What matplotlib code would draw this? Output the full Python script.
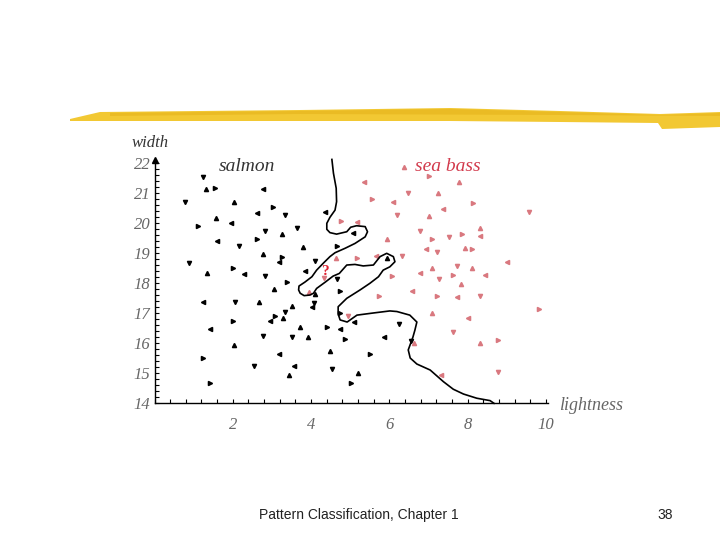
import numpy as np
import matplotlib
matplotlib.use("Agg")
import matplotlib.pyplot as plt
from matplotlib.patches import Polygon
from matplotlib.ticker import MultipleLocator

# salmon (black) samples: lightness, width
salmon_x = [1.23, 1.32, 1.55, 2.78, 0.78, 2.04, 3.03, 2.61, 3.33, 1.57, 1.10, 1.95,
            2.83, 3.26, 2.61, 1.59, 2.16, 2.78, 3.26, 3.18, 0.89, 1.35, 2.00, 2.29,
            2.83, 3.06, 3.38, 1.23, 2.06, 2.66, 3.08, 2.95, 3.33, 3.29, 2.01, 1.42,
            2.78, 2.04, 1.23, 3.19, 2.53, 3.43, 1.42, 3.84, 4.65, 4.10, 4.74, 4.02,
            4.08, 3.52, 4.74, 5.10, 6.25, 3.72, 4.40, 4.74, 3.52, 3.91, 4.87, 5.86,
            6.55, 4.48, 5.50, 3.55, 4.53, 5.19, 5.01, 4.36, 3.63, 3.79, 4.67, 5.06,
            4.10, 5.93]
salmon_y = [21.55, 21.13, 21.19, 21.13, 20.70, 20.70, 20.53, 20.33, 20.28, 20.17, 19.92, 20.00,
            19.74, 19.63, 19.49, 19.42, 19.24, 18.98, 18.89, 18.72, 18.67, 18.35, 18.50, 18.30,
            18.24, 17.80, 18.03, 17.39, 17.39, 17.39, 16.92, 16.75, 17.05, 16.85, 16.75, 16.48,
            16.25, 15.94, 15.52, 15.64, 15.25, 14.95, 14.67, 18.42, 18.13, 17.64, 17.75, 17.22,
            17.35, 17.25, 17.02, 16.70, 16.64, 16.55, 16.53, 16.48, 16.22, 16.21, 16.14, 16.22,
            16.07, 15.75, 15.64, 15.25, 15.14, 15.00, 14.67, 20.39, 19.85, 19.20, 19.25, 19.67,
            18.74, 18.85]

# sea bass (red) samples
bass_x = [6.38, 7.01, 5.36, 6.47, 7.25, 5.55, 6.08, 6.20, 7.00, 4.75, 5.16, 6.78,
          5.93, 7.08, 6.93, 7.21, 4.63, 5.16, 5.65, 6.33, 7.08, 6.06, 6.78, 4.34,
          7.78, 8.13, 7.36, 9.56, 8.30, 7.85, 8.30, 7.53, 7.93, 8.10, 9.00, 7.73,
          8.10, 7.62, 8.44, 7.27, 7.82, 7.22, 7.73, 8.30, 7.08, 9.83, 8.00, 7.62,
          8.30, 8.78, 7.32, 8.78, 3.95, 5.73, 6.58, 4.95, 6.63]
bass_y = [21.89, 21.59, 21.39, 21.00, 21.00, 20.80, 20.70, 20.28, 20.24, 20.08, 20.05, 19.75,
          19.48, 19.48, 19.14, 19.03, 18.85, 18.83, 18.92, 18.92, 18.50, 18.24, 18.33, 18.19,
          21.39, 20.69, 20.48, 20.39, 19.85, 19.63, 19.58, 19.53, 19.19, 19.14, 18.72, 18.59,
          18.50, 18.28, 18.28, 18.14, 17.98, 17.59, 17.55, 17.59, 17.02, 17.14, 16.85, 16.39,
          16.02, 16.10, 14.94, 15.05, 17.72, 17.59, 17.75, 16.91, 16.00]

# decision boundary
bound_x = [4.53, 4.57, 4.64, 4.65, 4.61, 4.48, 4.40, 4.40, 4.48, 4.65, 4.91, 5.01,
           5.16, 5.38, 5.44, 5.38, 5.25, 5.12, 4.87, 4.61, 4.48, 4.31, 4.14, 4.02,
           3.84, 3.69, 3.68, 3.72, 3.82, 3.97, 4.06, 4.14, 4.36, 4.56, 4.72, 4.91,
           5.12, 5.33, 5.59, 5.76, 5.93, 6.10, 6.14, 6.01, 5.84, 5.72, 5.50, 5.25,
           4.91, 4.69, 4.69, 4.74, 4.92, 5.17, 5.58, 6.01, 6.19, 6.52, 6.70, 6.65,
           6.60, 6.48, 6.53, 6.70, 7.04, 7.38, 7.63, 7.89, 8.23, 8.57, 8.67]
bound_y = [22.13, 21.67, 21.17, 20.72, 20.44, 20.20, 20.00, 19.80, 19.69, 19.64, 19.72, 19.87,
           19.92, 19.89, 19.72, 19.55, 19.44, 19.33, 19.17, 19.02, 18.89, 18.67, 18.44, 18.22,
           18.04, 17.91, 17.78, 17.67, 17.59, 17.61, 17.67, 17.83, 18.04, 18.24, 18.33, 18.61,
           18.63, 18.58, 18.61, 18.89, 19.00, 18.89, 18.72, 18.55, 18.44, 18.22, 18.00, 17.78,
           17.50, 17.22, 16.98, 16.78, 16.71, 16.94, 17.01, 17.08, 17.06, 16.94, 16.71, 16.44,
           16.21, 15.78, 15.51, 15.31, 15.11, 14.72, 14.47, 14.31, 14.17, 14.09, 14.00]

x_ticks = [2, 4, 6, 8, 10]
y_ticks = [14, 15, 16, 17, 18, 19, 20, 21, 22]

SERIF = "Liberation Serif"
PINK = "#d9787f"
RED = "#d23a4c"
GRAY = "#666666"

fig = plt.figure(figsize=(7.2, 5.4), dpi=100, facecolor="white")

# yellow brush stroke along the top of the slide
bg = fig.add_axes([0, 0, 1, 1])
bg.set_xlim(0, 720)
bg.set_ylim(540, 0)
bg.axis("off")
bg.add_patch(Polygon([(70, 119), (100, 112), (300, 110), (450, 108), (560, 111), (660, 114),
                      (720, 112), (720, 127), (662, 129), (658, 123), (560, 122), (450, 121),
                      (300, 121), (100, 121), (70, 121)],
                     closed=True, facecolor="#f2c833", edgecolor="none"))
bg.add_patch(Polygon([(110, 113), (300, 111), (450, 109), (560, 112), (660, 115), (720, 113),
                      (720, 116), (560, 115), (300, 114), (110, 116)],
                     closed=True, facecolor="#e8b61e", edgecolor="none", alpha=0.7))

ax = fig.add_axes([0.2146, 0.2531, 0.5471, 0.4511])
ax.set_xlim(0, 10.06)
ax.set_ylim(14, 22.12)
ax.patch.set_alpha(0)

markers = ["v", "^", ">", "<"]
for i, (x, y) in enumerate(zip(salmon_x, salmon_y)):
    ax.plot(x, y, marker=markers[i % 4], color="black", markersize=3.0, linestyle="none")
for i, (x, y) in enumerate(zip(bass_x, bass_y)):
    ax.plot(x, y, marker=markers[(i + 1) % 4], color=PINK, markersize=3.0, linestyle="none")

ax.plot(bound_x, bound_y, color="black", linewidth=1.2, clip_on=False)

ax.text(4.34, 18.40, "?", color="#e02030", fontsize=11, fontweight="bold",
        family=SERIF, ha="center", va="center")
ax.text(2.36, 21.91, "salmon", color="#333333", fontsize=14, style="italic",
        family=SERIF, ha="center", va="center")
ax.text(7.50, 21.91, "sea bass", color=RED, fontsize=14, style="italic",
        family=SERIF, ha="center", va="center")

for s in ["top", "right"]:
    ax.spines[s].set_visible(False)
for s in ["left", "bottom"]:
    ax.spines[s].set_linewidth(1.0)
ax.plot(1, 0, ">k", markersize=6, transform=ax.get_yaxis_transform(), clip_on=False)
ax.plot(0, 1, "^k", markersize=5, transform=ax.get_xaxis_transform(), clip_on=False)

ax.set_xticks(x_ticks)
ax.set_yticks(y_ticks)
ax.xaxis.set_minor_locator(MultipleLocator(0.4))
ax.yaxis.set_minor_locator(MultipleLocator(0.2))
ax.tick_params(which="both", direction="in", length=3, width=0.8)
ax.tick_params(axis="x", which="major", pad=10)
ax.tick_params(axis="y", which="major", pad=3)
for lab in ax.get_xticklabels() + ax.get_yticklabels():
    lab.set_family(SERIF)
    lab.set_style("italic")
    lab.set_fontsize(12)
    lab.set_color(GRAY)

fig.text(150 / 720, 1 - 143 / 540, "width", family=SERIF, style="italic", fontsize=12,
         color="#333333", ha="center", va="center")
fig.text(591 / 720, 1 - 406 / 540, "lightness", family=SERIF, style="italic", fontsize=13,
         color=GRAY, ha="center", va="center")

fig.text(359 / 720, 1 - 515 / 540, "Pattern Classification, Chapter 1",
         family="Liberation Sans", fontsize=10, color="#222222", ha="center", va="center")
fig.text(665 / 720, 1 - 515 / 540, "38", family="Liberation Sans", fontsize=10,
         color="#222222", ha="center", va="center")

fig.savefig("out.png", dpi=100, facecolor="white")
